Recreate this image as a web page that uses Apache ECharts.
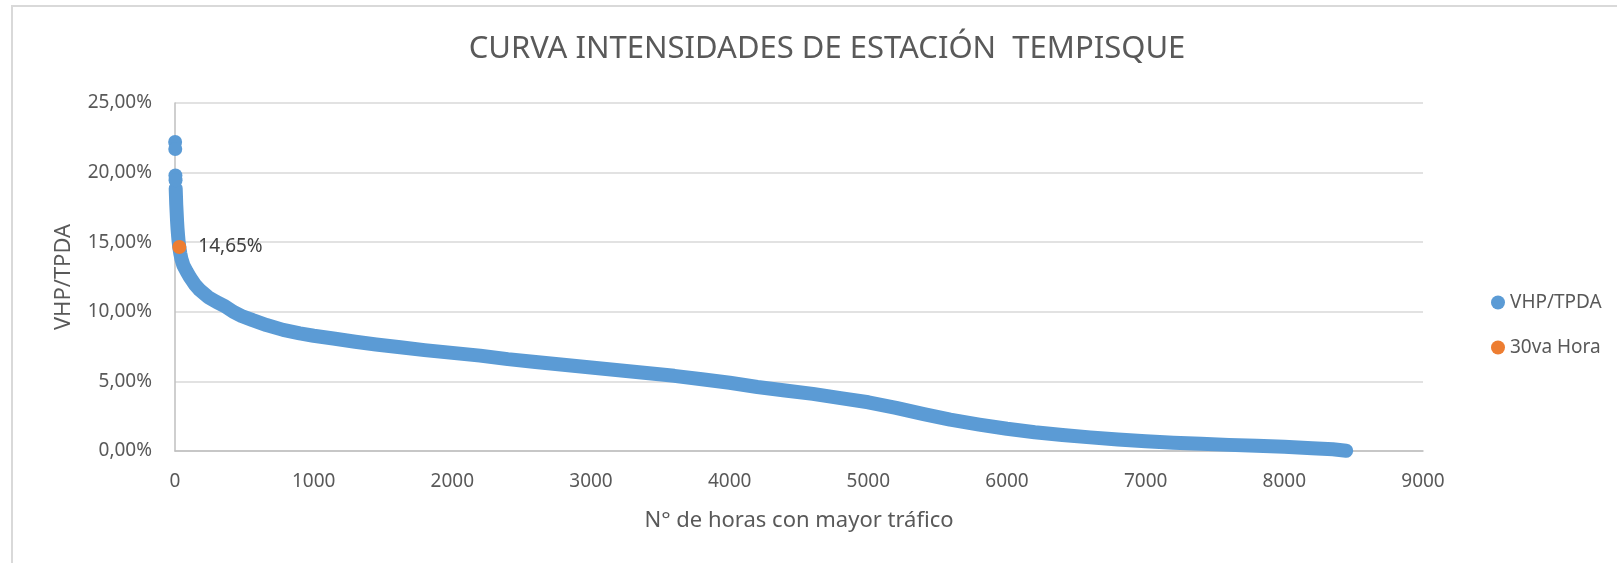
<!DOCTYPE html>
<html>
<head>
<meta charset="utf-8">
<script src="https://cdn.jsdelivr.net/npm/echarts@6.0.0/dist/echarts.min.js"></script>
<style>
  html, body { margin: 0; padding: 0; background: #fff; }
  #chart { width: 1617px; height: 563px; }
</style>
</head>
<body>
<div id="chart"></div>
<script>
// Isolated top points (first hours of the ranking)
const topHours = [1, 2, 3, 4];
const topValues = [22.2, 21.7, 19.8, 19.45];

// Main curve: hour rank vs VHP/TPDA (%)
const curveHours = [5, 7, 9, 12, 15, 18, 22, 26, 31, 38, 46, 60, 84, 110, 144, 180, 240, 300, 360, 420,
  480, 560, 660, 780, 900, 1000, 1142, 1300, 1450, 1625, 1800, 2000, 2200, 2400, 2600, 2800, 3000,
  3200, 3400, 3600, 3800, 4000, 4200, 4400, 4600, 4800, 5000, 5200, 5400, 5590, 5800, 6000, 6200,
  6400, 6600, 6800, 7000, 7200, 7400, 7600, 7800, 8000, 8200, 8350, 8446];
const curveValues = [18.85, 18.3, 17.7, 17.1, 16.5, 16.0, 15.5, 15.05, 14.65, 14.2, 13.8, 13.35, 12.9, 12.45, 11.95, 11.55, 11.05, 10.7, 10.4, 10.0,
  9.7, 9.4, 9.05, 8.7, 8.45, 8.28, 8.08, 7.85, 7.65, 7.45, 7.25, 7.05, 6.85, 6.6, 6.4, 6.2, 6.0,
  5.8, 5.6, 5.4, 5.15, 4.9, 4.6, 4.35, 4.1, 3.8, 3.5, 3.1, 2.65, 2.25, 1.9, 1.6, 1.35,
  1.15, 0.98, 0.82, 0.7, 0.6, 0.52, 0.44, 0.37, 0.3, 0.2, 0.12, 0.02];

// 30th hour point
const hour30 = [31];
const value30 = [14.65];

const xTicks = { min: 0, max: 9000, interval: 1000 };
const yTicks = { min: 0, max: 25, interval: 5 };

const blue = '#5B9BD5';
const orange = '#ED7D31';
const textColor = '#595959';
const font = 'Noto Sans';

const pct = v => v.toFixed(2).replace('.', ',') + '%';

const chart = echarts.init(document.getElementById('chart'));

chart.setOption({
  animation: false,
  backgroundColor: '#fff',
  textStyle: { fontFamily: font },
  graphic: [{
    type: 'rect',
    shape: { x: 12, y: 6, width: 1700, height: 700 },
    style: { fill: 'none', stroke: '#D9D9D9', lineWidth: 2 },
    silent: true, z: -10
  }],
  title: {
    text: 'CURVA INTENSIDADES DE ESTACIÓN  TEMPISQUE',
    left: 822, top: 29, textAlign: 'center',
    textStyle: { fontFamily: font, fontSize: 31, fontWeight: 'normal', color: textColor }
  },
  legend: {
    orient: 'vertical',
    left: 1486, top: 288,
    icon: 'circle',
    itemWidth: 14, itemHeight: 14, itemGap: 26,
    data: ['VHP/TPDA', '30va Hora'],
    textStyle: { fontFamily: font, fontSize: 19, lineHeight: 19, color: textColor }
  },
  grid: { left: 175, right: 194, top: 103, bottom: 112 },
  xAxis: {
    type: 'value',
    min: xTicks.min, max: xTicks.max, interval: xTicks.interval,
    name: 'N° de horas con mayor tráfico',
    nameLocation: 'middle', nameGap: 59,
    nameTextStyle: { fontFamily: font, fontSize: 22, color: textColor },
    axisLine: { show: true, lineStyle: { color: '#BFBFBF', width: 1.5 } },
    axisTick: { show: false },
    splitLine: { show: false },
    axisLabel: { fontFamily: font, fontSize: 19, color: textColor, margin: 21, formatter: v => String(v) }
  },
  yAxis: {
    type: 'value',
    min: yTicks.min, max: yTicks.max, interval: yTicks.interval,
    name: 'VHP/TPDA',
    nameLocation: 'middle', nameGap: 100,
    nameTextStyle: { fontFamily: font, fontSize: 22, color: textColor },
    axisLine: { show: true, lineStyle: { color: '#BFBFBF', width: 1.5 } },
    axisTick: { show: false },
    splitLine: { show: true, lineStyle: { color: '#D9D9D9', width: 1.5 } },
    axisLabel: { fontFamily: font, fontSize: 19, color: textColor, margin: 23, formatter: v => pct(v) }
  },
  series: [
    {
      name: 'VHP/TPDA',
      type: 'line',
      data: curveHours.map((h, i) => [h, curveValues[i]]),
      showSymbol: false,
      symbol: 'circle',
      itemStyle: { color: blue },
      lineStyle: { color: blue, width: 14, cap: 'round', join: 'round' },
      z: 2
    },
    {
      name: 'VHP/TPDA',
      type: 'scatter',
      data: topHours.map((h, i) => [h, topValues[i]]),
      symbol: 'circle',
      symbolSize: 14,
      itemStyle: { color: blue, opacity: 1 },
      z: 2
    },
    {
      name: '30va Hora',
      type: 'scatter',
      data: hour30.map((h, i) => [h, value30[i]]),
      symbol: 'circle',
      symbolSize: 14,
      itemStyle: { color: orange, opacity: 1 },
      label: {
        show: true, position: 'right', distance: 12,
        fontFamily: font, fontSize: 19, color: '#404040',
        formatter: p => pct(p.value[1])
      },
      z: 5
    }
  ]
});
</script>
</body>
</html>
